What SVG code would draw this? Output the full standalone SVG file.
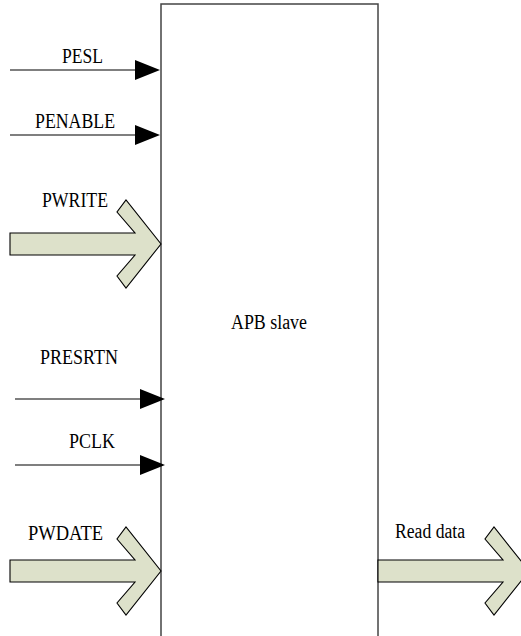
<svg xmlns="http://www.w3.org/2000/svg" width="521" height="636" viewBox="0 0 521 636">
<defs>
<polygon id="bus" fill="#dde1ca" stroke="#000" stroke-width="1.1" points="0,0 125,0 107,-21 116,-33 151,11 116,55 107,43 125,22 0,22"/>
<polygon id="tri" fill="#000" points="-25,-10 0,0 -25,10"/>
</defs>
<g id="apb-slave">
<rect x="161" y="4" width="217" height="640" fill="#fff" stroke="#444" stroke-width="1.5"/>
<text font-family="Liberation Serif, serif" font-size="20" x="231" y="329" textLength="76" lengthAdjust="spacingAndGlyphs">APB slave</text>
</g>
<g id="connectors" stroke="#000" stroke-width="1.2">
<line x1="10" y1="70" x2="140" y2="70"/>
<line x1="10" y1="135" x2="140" y2="135"/>
<line x1="15" y1="399" x2="145" y2="399"/>
<line x1="15" y1="465" x2="145" y2="465"/>
<use href="#tri" x="160" y="70" stroke="none"/>
<use href="#tri" x="160" y="135" stroke="none"/>
<use href="#tri" x="165" y="399" stroke="none"/>
<use href="#tri" x="165" y="465" stroke="none"/>
<use href="#bus" x="10" y="233"/>
<use href="#bus" x="10" y="560"/>
<use href="#bus" x="378" y="560"/>
</g>
<g id="labels" font-family="Liberation Serif, serif" font-size="20" fill="#000">
<text x="62" y="63" textLength="41" lengthAdjust="spacingAndGlyphs">PESL</text>
<text x="35" y="128" textLength="80" lengthAdjust="spacingAndGlyphs">PENABLE</text>
<text x="42" y="207" textLength="66" lengthAdjust="spacingAndGlyphs">PWRITE</text>
<text x="40" y="364" textLength="78" lengthAdjust="spacingAndGlyphs">PRESRTN</text>
<text x="69" y="448" textLength="46" lengthAdjust="spacingAndGlyphs">PCLK</text>
<text x="28" y="540" textLength="75" lengthAdjust="spacingAndGlyphs">PWDATE</text>
<text x="395" y="538" textLength="70" lengthAdjust="spacingAndGlyphs">Read data</text>
</g>
</svg>
